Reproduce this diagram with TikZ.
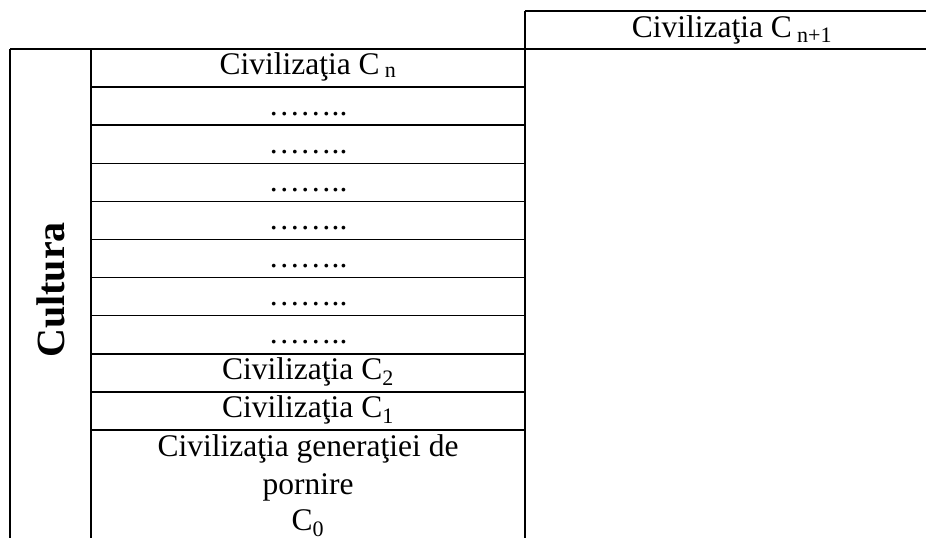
\documentclass[tikz,border=0pt]{standalone}
\usepackage{fontspec}
\setmainfont{Liberation Serif}
\begin{document}
\begin{tikzpicture}[x=1pt,y=-1pt,
  rule/.style={line width=1.5pt},
  celltext/.style={anchor=base,inner sep=0pt,font=\fontsize{31.5}{38.5}\selectfont},
  dotstext/.style={celltext},
  bigtext/.style={inner sep=0pt,font=\fontsize{40}{44}\selectfont\bfseries,rotate=90}]
\useasboundingbox (0,0) rectangle (926,538);
% structure coordinates
\coordinate (L0) at (10,49);  \coordinate (L1) at (10,538);
\coordinate (I0) at (91,49);  \coordinate (I1) at (91,538);
\coordinate (R0) at (525,11); \coordinate (R1) at (525,538);
\coordinate (T0) at (525,11); \coordinate (T1) at (926,11);
\coordinate (M0) at (10,49);  \coordinate (M1) at (926,49);
\draw[rule] (L0) -- (L1);
\draw[rule] (I0) -- (I1);
\draw[rule] (R0) -- (R1);
\draw[rule] (T0) -- (T1);
\draw[rule] (M0) -- (M1);
\foreach \k in {1,...,10}{
  \coordinate (a\k) at (91,{49+38.1*\k});
  \coordinate (b\k) at (525,{49+38.1*\k});
  \draw[rule] (a\k) -- (b\k);
}
% texts
\node[celltext] (cn1) at (732,37) {Civilizaţia C\,\textsubscript{n+1}};
\node[celltext] (cn) at (308,74) {Civilizaţia C\,\textsubscript{n}};
\foreach \k in {1,...,7}{
  \node[dotstext] (d\k) at (308,{87.1+38.1*(\k-1)+28}) {……..};
}
\node[celltext] (c2) at (308,{353.8+26}) {Civilizaţia C\textsubscript{2}};
\node[celltext] (c1) at (308,{391.9+26}) {Civilizaţia C\textsubscript{1}};
\node[celltext] (g1) at (308,456) {Civilizaţia generaţiei de};
\node[celltext] (g2) at (308,494) {pornire};
\node[celltext] (g3) at (308,530) {C\textsubscript{0}};
\node[bigtext] (cult) at (50.5,290) {Cultura};
\end{tikzpicture}
\end{document}
